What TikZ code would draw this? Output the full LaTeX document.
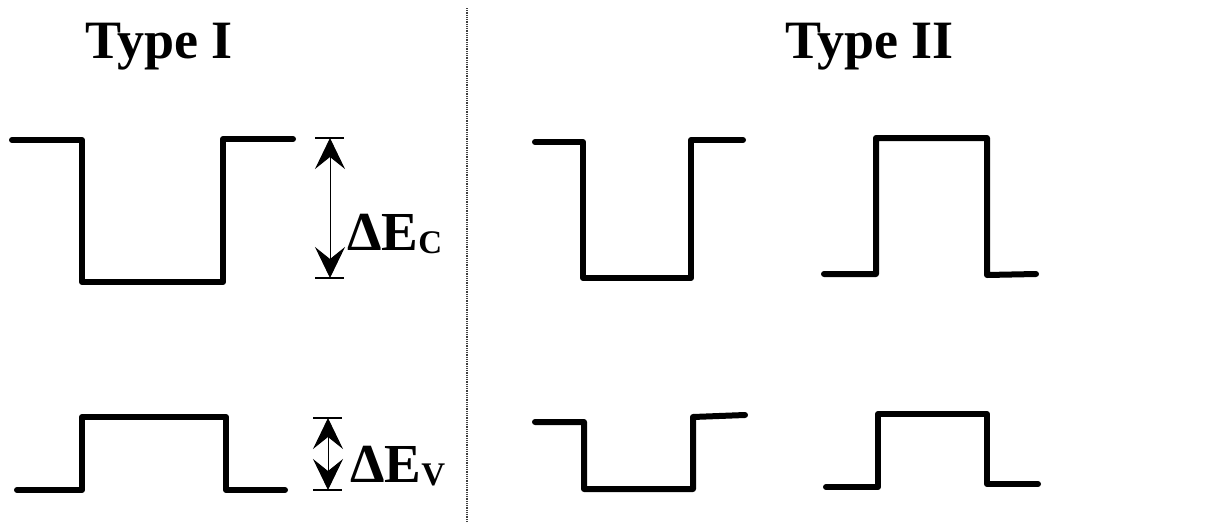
\documentclass[tikz,border=0pt]{standalone}
\usepackage{fontspec}
\setmainfont{Liberation Serif}
\usetikzlibrary{arrows.meta}
\tikzset{
  band/.style={line width=6pt, line cap=round, line join=round},
  dimarrow/.style={line width=1pt, {Stealth[length=31pt,width=30pt,inset=12pt]}-{Stealth[length=31pt,width=30pt,inset=12pt]}},
  dimtick/.style={line width=1.5pt},
  divider/.style={line width=1.2pt, dash pattern=on 1pt off 0.8pt, black!75},
  title/.style={inner sep=0pt, anchor=base west, font=\bfseries\fontsize{54}{54}\selectfont},
  dlabel/.style={inner sep=0pt, anchor=base west, font=\bfseries\fontsize{55}{55}\selectfont}
}
\newcommand{\subtxt}[1]{\raisebox{-3pt}{\bfseries\fontsize{33}{33}\selectfont #1}}
\begin{document}
\begin{tikzpicture}[x=1pt,y=-1pt]
\useasboundingbox (0,0) rectangle (1207,525);
% titles
\node[title] (t1) at (85,58) {Type I};
\node[title] (t2) at (785,58) {Type II};
% divider
\coordinate (dtop) at (467,8);
\coordinate (dbot) at (467,522);
\draw[divider] (dtop) -- (dbot);
% Type I conduction band (well)
\draw[band] (12,140) -- (82,140) -- (82,282) -- (223,282) -- (223,139) -- (293,139);
% Type I valence band (barrier)
\draw[band] (17,490) -- (82,490) -- (82,417) -- (226,417) -- (226,490) -- (285,490);
% Delta E_C
\coordinate (c1) at (330,138);
\coordinate (c2) at (330,278);
\draw[dimtick] (315,138) -- (344,138);
\draw[dimtick] (315,278) -- (344,278);
\draw[dimarrow] (c1) -- (c2);
\node[dlabel] (lc) at (347,250) {ΔE\subtxt{C}};
% Delta E_V
\coordinate (v1) at (328,418);
\coordinate (v2) at (328,490);
\draw[dimtick] (313,418) -- (342,418);
\draw[dimtick] (313,490) -- (342,490);
\draw[dimarrow] (v1) -- (v2);
\node[dlabel] (lv) at (350,482) {ΔE\subtxt{V}};
% Type II, first pair
\draw[band] (535,142) -- (583,142) -- (583,278) -- (691,278) -- (691,140) -- (743,140);
\draw[band] (535,422) -- (584,422) -- (584,489) -- (693,489) -- (693,417) -- (745,415);
% Type II, second pair
\draw[band] (824,274) -- (876,274) -- (876,138) -- (987,138) -- (987,275) -- (1036,274);
\draw[band] (826,487) -- (878,487) -- (878,414) -- (987,414) -- (987,484) -- (1038,484);
\end{tikzpicture}
\end{document}
